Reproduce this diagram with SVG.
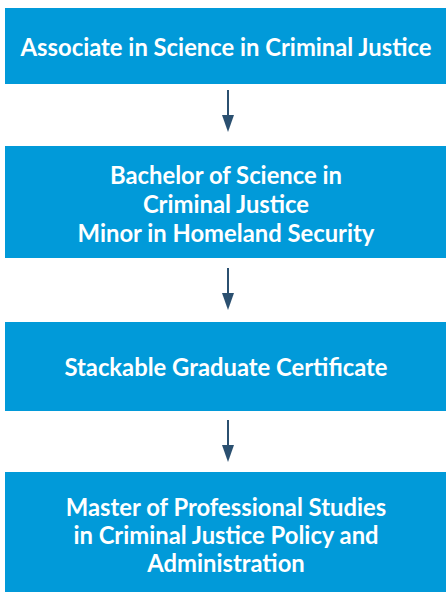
<svg xmlns="http://www.w3.org/2000/svg" width="446" height="592" viewBox="0 0 446 592">
<defs>
<style>
.box{fill:#019ad9}
.t{font-family:Lato,"Liberation Sans",sans-serif;font-weight:bold;font-size:23.8px;fill:#fff;text-anchor:middle}
.c{stroke:#2b5070;stroke-width:2;fill:none}
.h{fill:#2b5070}
</style>
</defs>
<g id="node1"><rect class="box" x="5" y="8" width="441" height="76"/><text class="t" x="226" y="56">Associate in Science in Criminal Justice</text></g>
<g id="node2"><rect class="box" x="5" y="146" width="441" height="112"/><text class="t" x="226" y="184">Bachelor of Science in</text><text class="t" x="226" y="213">Criminal Justice</text><text class="t" x="226" y="242">Minor in Homeland Security</text></g>
<g id="node3"><rect class="box" x="5" y="322" width="441" height="89"/><text class="t" x="226" y="376">Stackable Graduate Certificate</text></g>
<g id="node4"><rect class="box" x="5" y="472" width="441" height="120"/><text class="t" x="226" y="516">Master of Professional Studies</text><text class="t" x="226" y="544">in Criminal Justice Policy and</text><text class="t" x="226" y="572">Administration</text></g>
<g id="connectors">
<line class="c" x1="228" y1="90" x2="228" y2="115"/><path class="h" d="M222,115 L234,115 L228,132 Z"/>
<line class="c" x1="228" y1="268" x2="228" y2="293"/><path class="h" d="M222,293 L234,293 L228,310 Z"/>
<line class="c" x1="228" y1="420" x2="228" y2="445"/><path class="h" d="M222,445 L234,445 L228,462 Z"/>
</g>
</svg>
